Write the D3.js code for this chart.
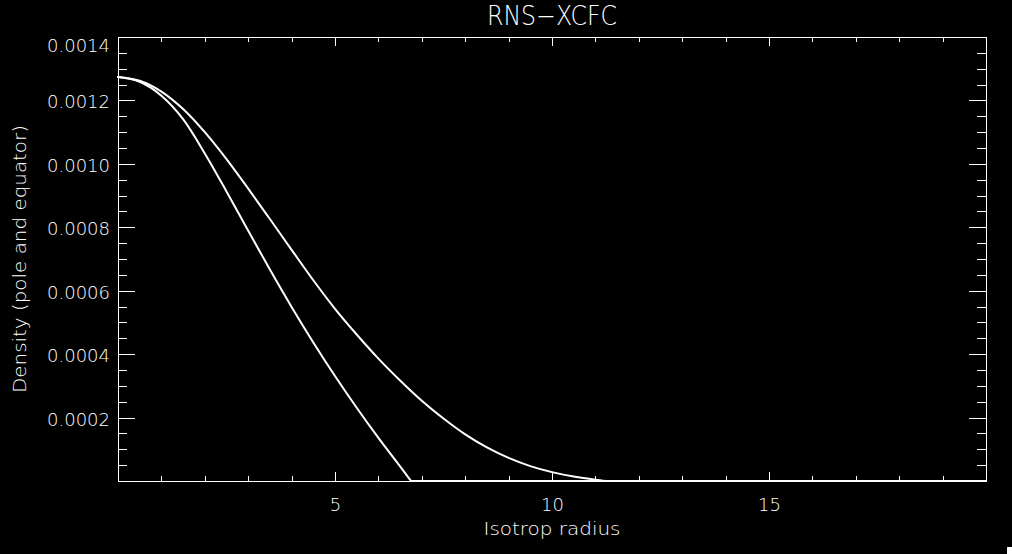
<!DOCTYPE html>
<html><head><meta charset="utf-8">
<script src="https://cdn.jsdelivr.net/npm/d3@7"></script>
<style>html,body{margin:0;padding:0;background:#000;overflow:hidden}</style>
</head><body><svg id="c" width="1012" height="554"></svg>
<script>
const title = "RNS\u2212XCFC";
const xTitle = "Isotrop radius";
const yTitle = "Density (pole and equator)";

const radiusPole = [0,0.5,1,1.5,2,2.5,3,3.5,4,4.5,5,5.5,6,6.5,6.75,20];
const densityPole = [0.001274,0.001259,0.001215,0.001141,0.001033,0.000913,0.000789,0.000667,0.000549,0.000437,0.000331,0.000231,0.000136,0.000046,0,0];

const radiusEquator = [0,0.5,1,1.5,2,2.5,3,3.5,4,4.5,5,5.5,6,6.5,7,7.5,8,8.5,9,9.5,10,10.5,11,11.25,20];
const densityEquator = [0.001274,0.001262,0.001228,0.001173,0.0011,0.001015,0.000922,0.000826,0.000729,0.000633,0.000543,0.000462,0.000386,0.000317,0.000253,0.000197,0.000147,0.000106,0.000073,0.000047,0.000028,0.000014,0.000004,0,0];

const xMajorTicks = [0,5,10,15,20];
const xTickLabels = ["","5","10","15",""];
const xMinorTicks = [1,2,3,4,6,7,8,9,11,12,13,14,16,17,18,19];
const yMajorTicks = [0,0.0002,0.0004,0.0006,0.0008,0.0010,0.0012,0.0014];
const yTickLabels = ["","0.0002","0.0004","0.0006","0.0008","0.0010","0.0012","0.0014"];
const yMinorTicks = [0.00005,0.0001,0.00015,0.00025,0.0003,0.00035,0.00045,0.0005,0.00055,0.00065,0.0007,0.00075,0.00085,0.0009,0.00095,0.00105,0.0011,0.00115,0.00125,0.0013,0.00135];

const W = 1012, H = 554;
const L = 118, R = 986, T = 37, B = 481;
const font = "'DejaVu Sans', 'Liberation Sans', sans-serif";

const svg = d3.select("#c");
svg.append("rect").attr("width", W).attr("height", H).attr("fill", "#000");

const x = d3.scaleLinear().domain([0, 20]).range([L, R]);
const y = d3.scaleLinear().domain([0, 0.0014]).range([B, T]);

function styleAxis(g) {
  g.selectAll("path,line").attr("stroke", "#fff").attr("stroke-width", 1).attr("shape-rendering", "crispEdges");
  g.selectAll("text").attr("fill", "#fff").attr("font-family", font).attr("font-size", 18).attr("font-weight", 200);
}

// bottom
svg.append("g").attr("transform", `translate(0,${B})`)
  .call(d3.axisBottom(x).tickValues(xMajorTicks).tickSizeInner(-9).tickSizeOuter(0).tickPadding(17)
    .tickFormat((d, i) => xTickLabels[i]))
  .call(styleAxis);
svg.append("g").attr("transform", `translate(0,${B})`)
  .call(d3.axisBottom(x).tickValues(xMinorTicks).tickSizeInner(-5).tickSizeOuter(0).tickFormat(""))
  .call(styleAxis);
// top
svg.append("g").attr("transform", `translate(0,${T})`)
  .call(d3.axisTop(x).tickValues(xMajorTicks).tickSizeInner(-9).tickSizeOuter(0).tickFormat(""))
  .call(styleAxis);
svg.append("g").attr("transform", `translate(0,${T})`)
  .call(d3.axisTop(x).tickValues(xMinorTicks).tickSizeInner(-5).tickSizeOuter(0).tickFormat(""))
  .call(styleAxis);
// left
const gl = svg.append("g").attr("transform", `translate(${L},0)`)
  .call(d3.axisLeft(y).tickValues(yMajorTicks).tickSizeInner(-17).tickSizeOuter(0).tickPadding(8)
    .tickFormat((d, i) => yTickLabels[i]))
  .call(styleAxis);
gl.selectAll(".tick text").attr("dy", d => d === 0.0014 ? "0.80em" : "0.42em");
svg.append("g").attr("transform", `translate(${L},0)`)
  .call(d3.axisLeft(y).tickValues(yMinorTicks).tickSizeInner(-9).tickSizeOuter(0).tickFormat(""))
  .call(styleAxis);
// right
svg.append("g").attr("transform", `translate(${R},0)`)
  .call(d3.axisRight(y).tickValues(yMajorTicks).tickSizeInner(-17).tickSizeOuter(0).tickFormat(""))
  .call(styleAxis);
svg.append("g").attr("transform", `translate(${R},0)`)
  .call(d3.axisRight(y).tickValues(yMinorTicks).tickSizeInner(-9).tickSizeOuter(0).tickFormat(""))
  .call(styleAxis);

// curves: split each series at its first zero so the smooth part keeps its own end slope
const line = d3.line().x(d => x(d[0])).y(d => y(d[1])).curve(d3.curveMonotoneX);
function drawSeries(xs, ys) {
  const pts = xs.map((r, i) => [r, ys[i]]);
  const z = ys.indexOf(0);
  [pts.slice(0, z + 1), pts.slice(z)].forEach(seg => {
    svg.append("path").datum(seg).attr("d", line)
      .attr("fill", "none").attr("stroke", "#fff").attr("stroke-width", 2)
      .attr("stroke-linejoin", "round").attr("stroke-linecap", "round");
  });
}
drawSeries(radiusPole, densityPole);
drawSeries(radiusEquator, densityEquator);

// titles
svg.append("text").attr("x", (L + R) / 2).attr("y", 25).attr("text-anchor", "middle")
  .attr("fill", "#fff").attr("font-family", font).attr("font-size", 26).attr("font-weight", 200)
  .attr("textLength", 130).attr("lengthAdjust", "spacingAndGlyphs").text(title);
svg.append("text").attr("x", (L + R) / 2).attr("y", 535).attr("text-anchor", "middle")
  .attr("fill", "#fff").attr("font-family", font).attr("font-size", 18).attr("font-weight", 200)
  .attr("textLength", 137).attr("lengthAdjust", "spacingAndGlyphs").text(xTitle);
svg.append("text").attr("transform", `translate(26,${(T + B) / 2}) rotate(-90)`).attr("text-anchor", "middle")
  .attr("fill", "#fff").attr("font-family", font).attr("font-size", 18).attr("font-weight", 200)
  .attr("textLength", 268).attr("lengthAdjust", "spacingAndGlyphs").text(yTitle);

// corner mark
svg.append("rect").attr("x", 1007).attr("y", 547).attr("width", 5).attr("height", 7).attr("fill", "#fff");
</script></body></html>
